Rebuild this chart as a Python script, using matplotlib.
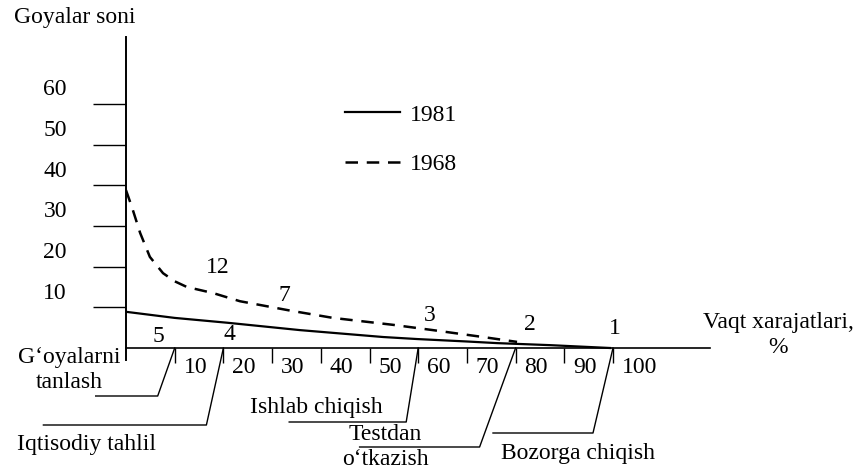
import matplotlib
matplotlib.use("Agg")
import matplotlib.pyplot as plt
import numpy as np

# Data
# 1981 curve (solid) - time spent, % vs number of ideas
x_1981 = [0, 10, 20.9, 35.7, 52.8, 59.8, 70, 76.2, 87.1, 99.4]
y_1981 = [8.9, 7.4, 6.2, 4.4, 2.7, 2.2, 1.6, 1.2, 0.7, 0.0]

# 1968 curve (dashed)
x_1968 = [0, 1.2, 2.9, 4.9, 7.6, 10, 12.5, 17.9, 23.4, 33.7, 42.5, 54.8, 63.0, 73.3, 80.3]
y_1968 = [38.8, 34.7, 28.3, 22.4, 18.4, 16.4, 15.0, 13.5, 11.5, 9.2, 7.4, 5.7, 4.4, 2.7, 1.5]

y_ticks = [10, 20, 30, 40, 50, 60]
x_ticks = [10, 20, 30, 40, 50, 60, 70, 80, 90, 100]

# number of ideas left at each stage
counts_1968 = ["12", "7", "3", "2", "1"]
counts_1981 = ["5", "4"]

stages = ["G\u2018oyalarni\ntanlash", "Iqtisodiy tahlil", "Ishlab chiqish",
          "Testdan\no\u2018tkazish", "Bozorga chiqish"]
stage_end = [10, 20, 60, 80, 100]

plt.rcParams['font.family'] = ['Liberation Serif', 'DejaVu Serif']
FS = 17

fig = plt.figure(figsize=(8.61, 4.69), dpi=100)
W, H = 861, 469
ax = fig.add_axes([126 / W, (H - 360) / H, 584 / W, (360 - 37) / H])
ax.set_xlim(0, 584 / 4.87)
ax.set_ylim(-12 / 4.067, (348 - 37) / 4.067)

for s in ['top', 'right']:
    ax.spines[s].set_visible(False)
ax.spines['bottom'].set_position(('data', 0))
ax.spines['bottom'].set_linewidth(1.2)
ax.spines['left'].set_linewidth(1.4)

ax.set_yticks(y_ticks)
ax.set_yticklabels([])
ax.tick_params(axis='y', direction='out', length=24, width=1.0)
ax.set_xticks(x_ticks)
ax.set_xticklabels([])
ax.tick_params(axis='x', direction='out', length=11, width=1.0)

# y tick labels sit above-left of the tick lines
for v in y_ticks:
    ax.annotate(str(v), xy=(0, v), xytext=(-59, 14), textcoords='offset pixels',
                ha='right', va='center', fontsize=FS)
# x tick labels to the right of the ticks
for v in x_ticks:
    ax.annotate(str(v), xy=(v, 0), xytext=(9, -19), textcoords='offset pixels',
                ha='left', va='center', fontsize=FS, annotation_clip=False)

l81, = ax.plot(x_1981, y_1981, color='black', lw=1.6, label='1981')
l68, = ax.plot(x_1968, y_1968, color='black', lw=1.8, ls=(0, (5, 3.5)), label='1968')

ax.legend(handles=[l81, l68], loc='upper left', frameon=False, fontsize=FS,
          bbox_to_anchor=(345 / W, 1 - 104 / H), bbox_transform=fig.transFigure,
          borderpad=0, borderaxespad=0, handlelength=2.35, handletextpad=0.42,
          labelspacing=1.18)

# counts along the curves
for txt, xx, yy in zip(counts_1968, [18.9, 32.6, 62.4, 83.0, 100.4],
                       [19.7, 13.0, 8.1, 5.7, 4.9]):
    ax.text(xx, yy, txt, ha='center', va='center', fontsize=FS)
for txt, xx, yy in zip(counts_1981, [6.6, 21.3], [2.95, 3.2]):
    ax.text(xx, yy, txt, ha='center', va='center', fontsize=FS)

# leader lines from axis to stage names (pixel offsets: knee, then horizontal end)
leaders = [(-17, -48, -62), (-17, -77, -163), (-12, -74, -117),
           (-36, -99, -120), (-20, -85, -100)]
text_off = [(-105, -22), (-137, -96), (-102, -59), (-130, -99), (-35, -105)]
inv = ax.transData.inverted()
for name, xb, (kx, ky, ex), (tx, ty) in zip(stages, stage_end, leaders, text_off):
    p0 = ax.transData.transform((xb, 0))
    pts = np.array([p0, p0 + [kx, ky], p0 + [kx + ex, ky]])
    d = inv.transform(pts)
    ax.plot(d[:, 0], d[:, 1], color='black', lw=1.0, clip_on=False)
    ax.annotate(name, xy=(xb, 0), xytext=(tx, ty), textcoords='offset pixels',
                ha='center', va='center', fontsize=FS, linespacing=1.3,
                multialignment='center', annotation_clip=False)

fig.text(75 / W, 1 - 18 / H, "Goyalar soni", ha='center', va='center', fontsize=FS)
fig.text(778 / W, 1 - 335 / H, "Vaqt xarajatlari,\n%", ha='center', va='center',
         fontsize=FS, linespacing=1.3)

fig.savefig("out.png", dpi=100)
